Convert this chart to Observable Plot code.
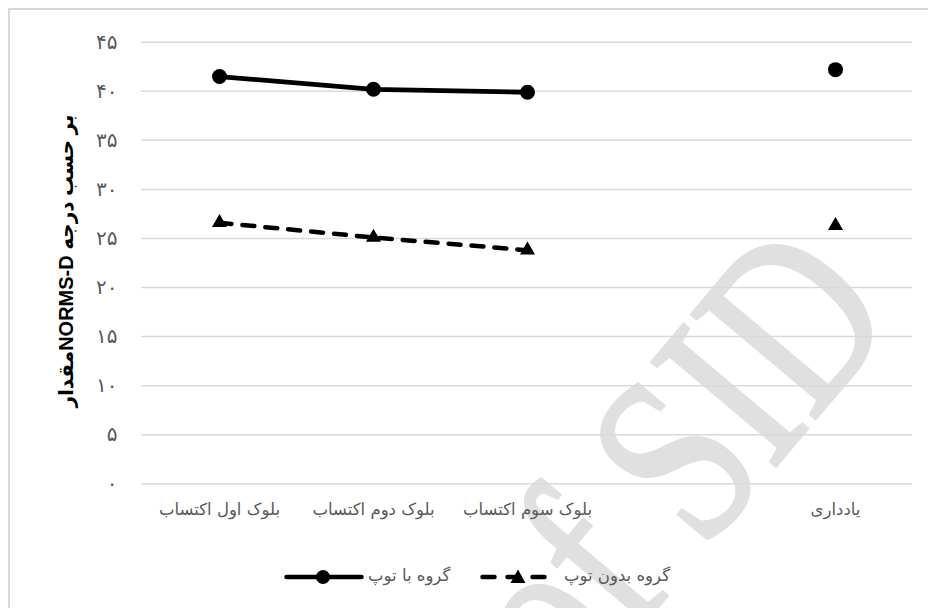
<!DOCTYPE html>
<html>
<head>
<meta charset="utf-8">
<script src="https://cdn.jsdelivr.net/npm/d3@7"></script>
<script src="https://cdn.jsdelivr.net/npm/@observablehq/plot@0.6"></script>
<style>
  html, body { margin: 0; padding: 0; background: #fff; }
  body { width: 928px; height: 608px; overflow: hidden; position: relative; font-family: "DejaVu Sans", sans-serif; }
  #frame { position: absolute; left: 8px; top: 8px; width: 960px; height: 640px; border: 2px solid #d9d9d9; box-sizing: border-box; }
  #wm { position: absolute; left: 0; top: 0; }
  #chart { position: absolute; left: 0; top: 0; }
  #legend { position: absolute; left: 0; top: 0; width: 928px; height: 608px; color: #595959; font-size: 16.5px; }
  #legend svg, #legend span { position: absolute; }
  #legend span { white-space: nowrap; line-height: 20px; }
</style>
</head>
<body>
<div id="frame"></div>
<svg id="wm" width="928" height="608">
  <g transform="translate(900 318) rotate(-50) scale(1 1.3)">
    <text x="0" y="0" text-anchor="end" fill="#e0e0e0" stroke="#e0e0e0" stroke-width="2.5"
          font-family="Liberation Serif, DejaVu Serif, serif" font-size="190">Archive of SID</text>
  </g>
</svg>
<div id="chart"></div>
<div id="legend"></div>
<script>
// ---- data ----
const categories = ["بلوک اول اکتساب", "بلوک دوم اکتساب", "بلوک سوم اکتساب", " ", "یادداری"];
const withBall = [41.5, 40.2, 39.9, null, 42.2];      // گروه با توپ
const withoutBall = [26.6, 25.1, 23.8, null, 26.3];   // گروه بدون توپ
const seriesNames = ["گروه با توپ", "گروه بدون توپ"];
const yTicks = [0, 5, 10, 15, 20, 25, 30, 35, 40, 45];
const yTickLabels = ["۰", "۵", "۱۰", "۱۵", "۲۰", "۲۵", "۳۰", "۳۵", "۴۰", "۴۵"];
const yTitle = "مقدارNORMS-D بر حسب درجه";

const rowsA = categories.map((c, i) => ({cat: c, v: withBall[i]}));
const rowsB = categories.map((c, i) => ({cat: c, v: withoutBall[i]}));

const chart = Plot.plot({
  width: 928,
  height: 545,
  marginLeft: 141,
  marginRight: 16,
  marginTop: 41.7,
  marginBottom: 61.7,
  style: {background: "none", fontFamily: "DejaVu Sans, sans-serif", fontSize: "14px", color: "#595959"},
  x: {type: "point", domain: categories, padding: 0.5, axis: null},
  y: {domain: [0, 45], axis: null},
  marks: [
    Plot.gridY(yTicks, {stroke: "#d9d9d9", strokeOpacity: 1, strokeWidth: 1.5}),
    Plot.axisY(yTicks, {tickSize: 0, tickPadding: 24, label: null, fill: "#595959", fontSize: 20,
      tickFormat: d => yTickLabels[yTicks.indexOf(d)]}),
    Plot.axisX({tickSize: 0, tickPadding: 19, label: null, fill: "#595959", fontSize: 16.5}),
    Plot.text([yTitle], {frameAnchor: "left", textAnchor: "middle", rotate: -90, dx: -75, dy: -2, fontWeight: "bold", fontSize: 20,
      fill: "#000", fontFamily: "Liberation Sans, DejaVu Sans, sans-serif"}),
    Plot.line(rowsB, {x: "cat", y: "v", stroke: "#000", strokeWidth: 4.5, strokeDasharray: "12,11", strokeLinecap: "round"}),
    Plot.dot(rowsB, {x: "cat", y: "v", symbol: "triangle", r: 5.6, fill: "#000", stroke: "none"}),
    Plot.line(rowsA, {x: "cat", y: "v", stroke: "#000", strokeWidth: 4.8, strokeLinecap: "round"}),
    Plot.dot(rowsA, {x: "cat", y: "v", symbol: "circle", r: 7.5, fill: "#000", stroke: "none"})
  ]
});
document.getElementById("chart").appendChild(chart);

// ---- legend ----
const legend = document.getElementById("legend");
legend.innerHTML = `
  <svg width="80" height="16" style="left:284px;top:569px"><line x1="2.5" y1="8" x2="77.5" y2="8" stroke="#000" stroke-width="4.5" stroke-linecap="round"/><circle cx="39" cy="8" r="7" fill="#000"/></svg>
  <span style="left:368px;top:566px">${seriesNames[0]}</span>
  <svg width="76" height="16" style="left:480px;top:569px"><line x1="2.5" y1="8" x2="73" y2="8" stroke="#000" stroke-width="4.5" stroke-dasharray="12,13" stroke-linecap="round"/><path d="M38,0.5 L45.5,14 L30.5,14 Z" fill="#000"/></svg>
  <span style="right:258px;top:566px;direction:rtl">${seriesNames[1]}</span>`;
</script>
</body>
</html>
